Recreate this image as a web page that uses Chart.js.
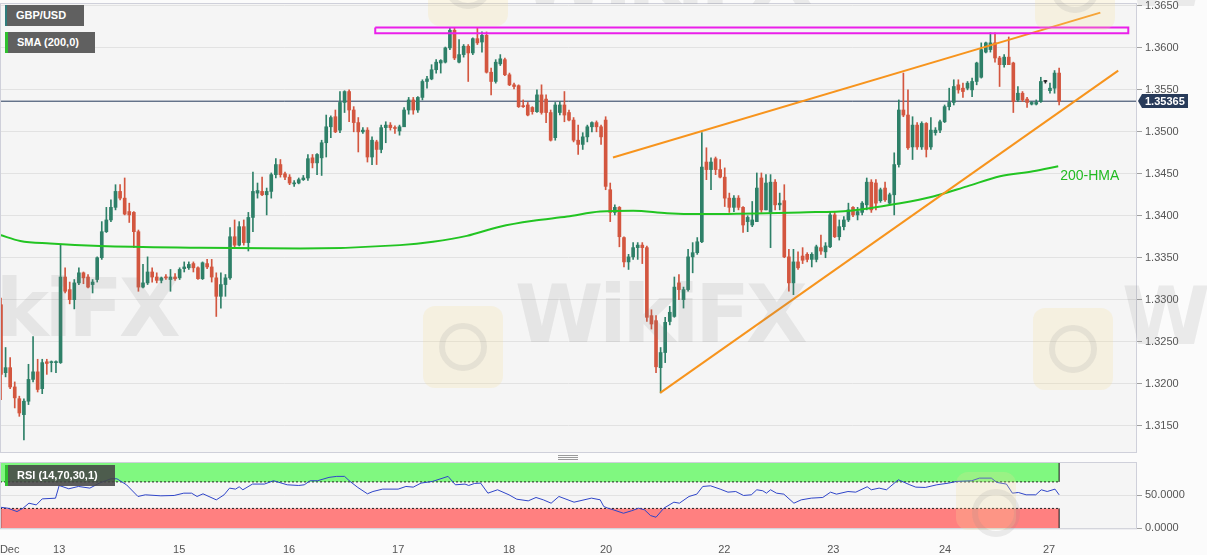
<!DOCTYPE html>
<html>
<head>
<meta charset="utf-8">
<script src="https://cdn.jsdelivr.net/npm/chart.js@4.4.1/dist/chart.umd.min.js"></script>
<style>
  html, body { margin: 0; padding: 0; background: #fbfbfb; }
  body { width: 1207px; height: 555px; position: relative; overflow: hidden; font-family: "Liberation Sans", Arial, sans-serif; }
  canvas { position: absolute; left: 0; }
  #main { top: 0; }
  #rsi { top: 455px; }
  .tag { position: absolute; left: 5px; height: 21px; line-height: 21px; background: #606060; color: #fff;
         font-weight: bold; font-size: 11px; padding-left: 9px; box-sizing: border-box; }
  .wm { position: absolute; color: rgba(120,120,120,0.13); font: bold 80px "DejaVu Sans", sans-serif; letter-spacing: -4px;
        white-space: nowrap; pointer-events: none; }
  .logo { position: absolute; width: 80px; height: 82px; border-radius: 12px; background: rgba(248,222,150,0.22); pointer-events: none; }
  .logo::after { content: ""; position: absolute; left: 16px; top: 17px; width: 36px; height: 36px; border-radius: 50%;
                 border: 6px solid rgba(140,140,140,0.15); }
  .grip { position: absolute; left: 558px; width: 20px; height: 1px; background: #9a9a9a; }
</style>
</head>
<body>
<canvas id="main" width="1207" height="455"></canvas>
<canvas id="rsi" width="1207" height="100"></canvas>

<div class="tag" style="top:5px;width:79px;border-left:2px solid #2f7c7c;">GBP/USD</div>
<div class="tag" style="top:32px;width:90px;border-left:3px solid #2fc02f;">SMA (200,0)</div>
<div class="tag" style="top:465px;width:110px;background:rgba(70,70,70,0.88);border-left:3px solid #2fc02f;">RSI (14,70,30,1)</div>
<div class="grip" style="top:455px;"></div>
<div class="grip" style="top:457px;"></div>
<div class="grip" style="top:459px;"></div>

<!-- faint WikiFX watermarks -->
<div class="wm" style="left:-112px;top:262px;">WikiFX</div>
<div class="logo" style="left:423px;top:306px;"></div>
<div class="wm" style="left:515px;top:268px;">WikiFX</div>
<div class="logo" style="left:1033px;top:308px;"></div>
<div class="wm" style="left:1122px;top:270px;">WikiFX</div>
<div class="logo" style="left:428px;top:-56px;"></div>
<div class="wm" style="left:520px;top:-70px;">WikiFX</div>
<div class="logo" style="left:1035px;top:-52px;"></div>
<div class="wm" style="left:1122px;top:-68px;">WikiFX</div>
<div class="logo" style="left:956px;top:472px;width:60px;height:58px;"></div>

<script>
'use strict';
// GBP/USD hourly candles, 10–27 Dec (index = hourly bar)
const opens = [1.3294,1.3213,1.3219,1.3196,1.3182,1.3163,1.3179,1.3205,1.3214,1.3194,
  1.3226,1.3225,1.3225,1.3225,1.3327,1.3312,1.3300,1.3320,1.3332,1.3327,
  1.3318,1.3324,1.3350,1.3381,1.3395,1.3410,1.3429,1.3421,1.3405,1.3404,
  1.3381,1.3315,1.3320,1.3333,1.3327,1.3323,1.3327,1.3324,1.3327,1.3326,
  1.3337,1.3338,1.3343,1.3338,1.3325,1.3343,1.3339,1.3326,1.3304,1.3318,
  1.3326,1.3375,1.3365,1.3387,1.3368,1.3398,1.3427,1.3429,1.3425,1.3429,
  1.3449,1.3461,1.3450,1.3446,1.3438,1.3439,1.3443,1.3445,1.3469,1.3463,
  1.3469,1.3487,1.3506,1.3518,1.3502,1.3535,1.3548,1.3526,1.3511,1.3500,
  1.3502,1.3470,1.3488,1.3479,1.3505,1.3508,1.3505,1.3501,1.3506,1.3526,
  1.3538,1.3526,1.3541,1.3560,1.3563,1.3574,1.3582,1.3583,1.3600,1.3621,
  1.3583,1.3592,1.3602,1.3594,1.3611,1.3607,1.3615,1.3571,1.3560,1.3581,
  1.3586,1.3568,1.3556,1.3555,1.3531,1.3532,1.3529,1.3524,1.3544,1.3539,
  1.3523,1.3493,1.3523,1.3532,1.3523,1.3514,1.3490,1.3485,1.3494,1.3506,
  1.3511,1.3506,1.3514,1.3431,1.3404,1.3410,1.3374,1.3345,1.3351,1.3362,
  1.3365,1.3362,1.3281,1.3275,1.3219,1.3237,1.3274,1.3280,1.3320,1.3300,
  1.3312,1.3351,1.3356,1.3369,1.3464,1.3455,1.3468,1.3455,1.3446,1.3421,
  1.3410,1.3421,1.3410,1.3393,1.3389,1.3393,1.3445,1.3407,1.3404,1.3440,
  1.3413,1.3418,1.3351,1.3320,1.3345,1.3352,1.3354,1.3348,1.3348,1.3362,
  1.3357,1.3363,1.3401,1.3375,1.3387,1.3395,1.3410,1.3401,1.3404,1.3413,
  1.3440,1.3439,1.3418,1.3433,1.3415,1.3425,1.3461,1.3526,1.3520,1.3482,
  1.3508,1.3482,1.3510,1.3482,1.3499,1.3502,1.3512,1.3530,1.3535,1.3556,
  1.3552,1.3552,1.3550,1.3560,1.3565,1.3595,1.3598,1.3606,1.3588,1.3580,
  1.3589,1.3582,1.3538,1.3546,1.3539,1.3533,1.3533,1.3536,1.3560,1.3549,
  1.3552,1.3570];
const highs = [1.3302,1.3243,1.3231,1.3202,1.3185,1.3182,1.3223,1.3256,1.3229,1.3229,
  1.3229,1.3227,1.3227,1.3365,1.3338,1.3321,1.3324,1.3338,1.3333,1.3330,
  1.3324,1.3351,1.3393,1.3410,1.3419,1.3437,1.3437,1.3445,1.3415,1.3405,
  1.3383,1.3342,1.3351,1.3338,1.3332,1.3327,1.3330,1.3336,1.3331,1.3338,
  1.3345,1.3345,1.3345,1.3339,1.3345,1.3348,1.3348,1.3332,1.3332,1.3330,
  1.3386,1.3395,1.3393,1.3395,1.3404,1.3452,1.3439,1.3446,1.3433,1.3451,
  1.3468,1.3467,1.3452,1.3449,1.3442,1.3445,1.3448,1.3473,1.3473,1.3474,
  1.3490,1.3520,1.3519,1.3526,1.3548,1.3549,1.3550,1.3530,1.3517,1.3505,
  1.3505,1.3494,1.3490,1.3508,1.3512,1.3511,1.3507,1.3508,1.3529,1.3541,
  1.3541,1.3542,1.3562,1.3566,1.3580,1.3586,1.3586,1.3601,1.3624,1.3624,
  1.3610,1.3604,1.3604,1.3612,1.3624,1.3619,1.3619,1.3576,1.3586,1.3592,
  1.3588,1.3570,1.3558,1.3556,1.3538,1.3535,1.3530,1.3550,1.3556,1.3544,
  1.3526,1.3535,1.3536,1.3548,1.3526,1.3517,1.3508,1.3499,1.3508,1.3512,
  1.3513,1.3508,1.3518,1.3439,1.3413,1.3411,1.3375,1.3354,1.3368,1.3368,
  1.3368,1.3364,1.3288,1.3281,1.3243,1.3279,1.3292,1.3327,1.3330,1.3315,
  1.3360,1.3368,1.3374,1.3499,1.3481,1.3469,1.3470,1.3467,1.3457,1.3427,
  1.3424,1.3424,1.3411,1.3400,1.3417,1.3451,1.3451,1.3449,1.3449,1.3443,
  1.3427,1.3437,1.3360,1.3360,1.3357,1.3362,1.3356,1.3356,1.3365,1.3377,
  1.3368,1.3404,1.3404,1.3395,1.3399,1.3415,1.3411,1.3410,1.3417,1.3445,
  1.3443,1.3443,1.3433,1.3440,1.3427,1.3475,1.3538,1.3570,1.3550,1.3518,
  1.3511,1.3512,1.3511,1.3517,1.3505,1.3514,1.3532,1.3552,1.3562,1.3562,
  1.3558,1.3560,1.3564,1.3583,1.3606,1.3607,1.3618,1.3618,1.3590,1.3592,
  1.3613,1.3583,1.3554,1.3548,1.3541,1.3536,1.3538,1.3565,1.3561,1.3558,
  1.3573,1.3576];
const lows = [1.3181,1.3208,1.3194,1.3171,1.3161,1.3133,1.3175,1.3202,1.3190,1.3188,
  1.3211,1.3214,1.3213,1.3224,1.3308,1.3295,1.3289,1.3318,1.3319,1.3314,
  1.3308,1.3321,1.3348,1.3380,1.3393,1.3407,1.3419,1.3401,1.3392,1.3362,
  1.3310,1.3314,1.3318,1.3321,1.3320,1.3320,1.3324,1.3310,1.3323,1.3324,
  1.3333,1.3336,1.3333,1.3324,1.3324,1.3337,1.3321,1.3280,1.3290,1.3304,
  1.3324,1.3363,1.3364,1.3365,1.3358,1.3381,1.3421,1.3424,1.3401,1.3421,
  1.3445,1.3446,1.3443,1.3437,1.3435,1.3438,1.3442,1.3442,1.3457,1.3449,
  1.3448,1.3470,1.3493,1.3499,1.3499,1.3523,1.3512,1.3500,1.3476,1.3498,
  1.3464,1.3461,1.3461,1.3475,1.3487,1.3502,1.3498,1.3496,1.3506,1.3521,
  1.3521,1.3523,1.3538,1.3552,1.3562,1.3570,1.3570,1.3582,1.3598,1.3586,
  1.3582,1.3589,1.3560,1.3592,1.3604,1.3595,1.3570,1.3544,1.3558,1.3579,
  1.3567,1.3555,1.3551,1.3529,1.3529,1.3519,1.3521,1.3523,1.3521,1.3511,
  1.3489,1.3490,1.3520,1.3512,1.3513,1.3488,1.3473,1.3479,1.3488,1.3500,
  1.3500,1.3485,1.3431,1.3393,1.3401,1.3363,1.3339,1.3336,1.3348,1.3348,
  1.3343,1.3274,1.3265,1.3213,1.3189,1.3225,1.3270,1.3279,1.3300,1.3290,
  1.3310,1.3332,1.3354,1.3368,1.3443,1.3431,1.3449,1.3445,1.3411,1.3404,
  1.3405,1.3407,1.3380,1.3381,1.3387,1.3393,1.3404,1.3407,1.3362,1.3407,
  1.3407,1.3350,1.3310,1.3306,1.3336,1.3343,1.3345,1.3339,1.3345,1.3354,
  1.3350,1.3362,1.3374,1.3371,1.3383,1.3393,1.3399,1.3395,1.3401,1.3407,
  1.3404,1.3407,1.3416,1.3417,1.3413,1.3401,1.3458,1.3518,1.3479,1.3467,
  1.3479,1.3479,1.3470,1.3479,1.3496,1.3499,1.3511,1.3526,1.3532,1.3546,
  1.3541,1.3550,1.3542,1.3556,1.3564,1.3594,1.3595,1.3583,1.3554,1.3577,
  1.3580,1.3523,1.3536,1.3536,1.3529,1.3532,1.3532,1.3535,1.3558,1.3546,
  1.3546,1.3532];
const closes = [1.3211,1.3219,1.3196,1.3183,1.3165,1.3179,1.3205,1.3214,1.3193,1.3225,
  1.3224,1.3226,1.3226,1.3327,1.3310,1.3300,1.3320,1.3332,1.3326,1.3315,
  1.3321,1.3350,1.3381,1.3395,1.3410,1.3429,1.3421,1.3402,1.3401,1.3381,
  1.3315,1.3320,1.3333,1.3327,1.3323,1.3326,1.3326,1.3327,1.3325,1.3336,
  1.3339,1.3342,1.3338,1.3325,1.3344,1.3339,1.3327,1.3304,1.3318,1.3326,
  1.3375,1.3365,1.3387,1.3368,1.3398,1.3429,1.3430,1.3425,1.3429,1.3449,
  1.3461,1.3449,1.3446,1.3439,1.3439,1.3443,1.3445,1.3468,1.3463,1.3473,
  1.3487,1.3506,1.3517,1.3500,1.3535,1.3548,1.3526,1.3511,1.3500,1.3502,
  1.3470,1.3490,1.3479,1.3505,1.3508,1.3505,1.3504,1.3506,1.3526,1.3538,
  1.3526,1.3541,1.3560,1.3563,1.3574,1.3583,1.3585,1.3600,1.3621,1.3588,
  1.3592,1.3602,1.3594,1.3611,1.3606,1.3615,1.3571,1.3560,1.3583,1.3587,
  1.3568,1.3556,1.3554,1.3530,1.3530,1.3520,1.3524,1.3544,1.3523,1.3523,
  1.3490,1.3532,1.3532,1.3520,1.3514,1.3490,1.3485,1.3494,1.3506,1.3511,
  1.3506,1.3494,1.3435,1.3404,1.3410,1.3375,1.3345,1.3351,1.3362,1.3365,
  1.3362,1.3279,1.3271,1.3220,1.3237,1.3273,1.3285,1.3315,1.3312,1.3312,
  1.3351,1.3356,1.3369,1.3458,1.3455,1.3464,1.3455,1.3446,1.3421,1.3410,
  1.3421,1.3410,1.3389,1.3398,1.3395,1.3433,1.3407,1.3439,1.3440,1.3413,
  1.3415,1.3351,1.3320,1.3345,1.3338,1.3347,1.3348,1.3354,1.3363,1.3358,
  1.3364,1.3401,1.3375,1.3387,1.3395,1.3407,1.3401,1.3405,1.3415,1.3440,
  1.3407,1.3415,1.3431,1.3419,1.3425,1.3461,1.3526,1.3520,1.3481,1.3508,
  1.3482,1.3510,1.3479,1.3502,1.3502,1.3512,1.3530,1.3535,1.3554,1.3550,
  1.3548,1.3558,1.3560,1.3582,1.3598,1.3606,1.3606,1.3588,1.3580,1.3589,
  1.3580,1.3536,1.3546,1.3538,1.3535,1.3535,1.3535,1.3560,1.3560,1.3552,
  1.3570,1.35365];

// 200-hour moving average (green), sampled along the curve
const hmaIdx = [-0.2,4.2,10.7,21.6,43.4,65.3,87.1,94.3,101.7,108.9,116.2,123.6,130.8,138.0,145.4,152.6,167.2,174.5,185.4,196.3,203.5,210.9,218.1,225.3,230.8];
const hmaVal = [1.3377,1.3370,1.3367,1.3364,1.3362,1.3361,1.3365,1.3369,1.3376,1.3387,1.3394,1.3399,1.3405,1.3406,1.3403,1.3402,1.3403,1.3404,1.3406,1.3415,1.3423,1.3435,1.3447,1.3453,1.3459];

// drawn studies
const wedgeTop = [[133.6, 1.34694], [240.0, 1.3642]];
const wedgeBottom = [[143.9, 1.31889], [243.9, 1.35729]];
const resistZone = { from: 81.7, to: 246.1, hi: 1.36244, lo: 1.36175 };

// RSI(14)
const rsiIdx = [-0.2,1.5,3.5,4.8,6.1,7.7,9.0,11.9,12.7,14.8,16.9,19.4,21.5,24.0,25.3,27.4,29.9,31.5,34.9,37.8,
  39.9,41.6,42.8,44.1,47.0,48.7,49.9,51.2,52.0,52.8,54.9,57.5,59.5,62.5,65.0,66.2,67.5,69.1,71.6,73.3,
  75.0,76.2,77.9,80.0,81.2,83.3,86.7,88.4,90.0,91.7,94.2,97.6,99.2,101.3,102.1,103.4,104.7,106.3,108.4,110.9,
  112.6,115.1,116.8,118.4,120.1,121.8,125.1,128.9,130.8,131.6,132.5,133.7,135.9,137.6,139.2,140.5,141.8,143.0,144.7,146.9,
  148.1,150.2,151.9,153.2,154.9,157.0,158.7,160.4,162.1,163.8,165.0,166.3,167.1,168.0,169.3,170.9,173.1,174.7,176.9,179.4,
  181.1,182.4,184.9,186.6,189.1,190.0,191.7,193.3,195.9,198.4,199.7,201.8,204.3,206.9,208.6,211.9,213.6,216.2,217.4,219.5,
  220.8,222.1,223.8,225.9,227.1,228.4,230.1,231.0];
const rsiVal = [31.8,30.3,25.2,30.3,37.9,35.3,44.4,45.4,64.6,59.6,63.1,60.6,68.2,74.7,74.7,65.6,48,50.5,49,49.5,
  53,53,48,52,42.9,50.5,60.6,59.1,62.6,58.1,66.7,66.7,71.7,65.6,64.6,65.6,71.7,71.7,76.8,78.3,
  78.3,70.7,61.6,52,55.5,59.1,59.1,63.1,62.1,68.2,70.7,78.3,65.6,66.7,64.6,67.7,68.2,53,58.1,50.5,
  43.9,41.4,46.5,42.9,37.9,48,39.4,45.5,43,32.8,30.3,27.8,22.7,26.3,30.3,27.8,19.2,16.7,30.3,39.4,
  37.9,48,51.5,63.1,64.1,59.1,54.5,55.5,49.5,50.5,58.1,56.6,53,58.1,53,51.5,37.9,42.9,45.5,46.5,
  54.5,51.5,55.5,54.5,62.6,58.1,60.6,58.1,73.2,65.6,62.1,61.6,65.6,68.2,70.7,71.7,75.7,75.7,69.2,66.7,
  53,54,50.5,50.5,58.1,55.5,59.1,50.5];

const priceTicks = [1.3150,1.3200,1.3250,1.3300,1.3350,1.3400,1.3450,1.3500,1.3550,1.3600,1.3650];
const rsiTicks = [0, 50];
const dayTickIdx = [1.9, 12.7, 38.9, 62.9, 86.7, 110.9, 132.1, 157.9, 181.7, 206.1, 228.8];
const dayTickLabels = ['Dec', '13', '15', '16', '17', '18', '20', '22', '23', '24', '27'];

const X_MIN = -0.218, X_MAX = 248.0;
const FONT = '"Liberation Sans", Arial, sans-serif';
const UP = '#2e8068', DOWN = '#d3563f', FLAT = '#222222';
const lastIdx = closes.length - 1;
const lastPrice = closes[lastIdx];

// shared panel look: light fill under the plot + thin frame
const panelFrame = {
  id: 'panelFrame',
  beforeDraw(chart) {
    const { ctx, chartArea: a } = chart;
    ctx.save();
    ctx.fillStyle = '#f5f5f5';
    ctx.fillRect(a.left, a.top, a.right - a.left, a.bottom - a.top);
    ctx.restore();
  },
  afterDraw(chart) {
    const { ctx, chartArea: a } = chart;
    ctx.save();
    ctx.strokeStyle = '#cfd0da';
    ctx.lineWidth = 1;
    ctx.strokeRect(a.left + 0.5, a.top + 0.5, a.right - a.left - 1, a.bottom - a.top);
    ctx.restore();
  }
};

const priceTag = {
  id: 'priceTag',
  afterDraw(chart) {
    const { ctx, chartArea: a, scales: { y } } = chart;
    const py = Math.round(y.getPixelForValue(lastPrice));
    const x0 = a.right + 5, w = 46, h = 14;
    ctx.save();
    ctx.fillStyle = '#283b5a';
    ctx.beginPath();
    ctx.moveTo(a.right + 1, py);
    ctx.lineTo(x0, py - h / 2);
    ctx.lineTo(x0 + w, py - h / 2);
    ctx.lineTo(x0 + w, py + h / 2);
    ctx.lineTo(x0, py + h / 2);
    ctx.closePath();
    ctx.fill();
    ctx.fillStyle = '#ffffff';
    ctx.font = 'bold 11px ' + FONT;
    ctx.textBaseline = 'middle';
    ctx.fillText(lastPrice.toFixed(5), x0 + 3, py + 1);
    // 200-HMA caption at the end of the average
    const hx = chart.scales.x.getPixelForValue(hmaIdx[hmaIdx.length - 1]);
    const hy = y.getPixelForValue(hmaVal[hmaVal.length - 1]);
    ctx.fillStyle = '#22bb22';
    ctx.font = '14px ' + FONT;
    ctx.fillText('200-HMA', hx + 2, hy + 10);
    ctx.restore();
  }
};

// keep label half-heights from shrinking the plot
const noPadV = s => { s.width = 70; s.paddingTop = 0; s.paddingBottom = 0; };
const noPadH = s => { s.height = 26.7; s.paddingLeft = 0; s.paddingRight = 0; };

const idx = closes.map((_, i) => i);
const candleCol = closes.map((c, i) => c > opens[i] ? UP : (c < opens[i] ? DOWN : FLAT));
const seg = (pts) => pts.map(p => ({ x: p[0], y: p[1] }));
const lineDs = (data, color, width, order, extra) => Object.assign({
  type: 'line', data, borderColor: color, borderWidth: width, pointRadius: 0, fill: false, order
}, extra || {});

new Chart(document.getElementById('main'), {
  data: {
    datasets: [
      lineDs([{ x: X_MIN, y: lastPrice }, { x: X_MAX, y: lastPrice }], '#24395a', 1, 9),
      { type: 'bar', data: idx.map(i => ({ x: i, y: [lows[i], highs[i]] })), backgroundColor: candleCol,
        barThickness: 1, grouped: false, order: 8 },
      { type: 'bar', data: idx.map(i => ({ x: i, y: [opens[i], closes[i]] })), backgroundColor: candleCol,
        barThickness: 3, minBarLength: 1, grouped: false, order: 7 },
      lineDs(hmaIdx.map((x, i) => ({ x, y: hmaVal[i] })), '#22c422', 2, 4, { cubicInterpolationMode: 'monotone' }),
      lineDs(seg(wedgeTop), '#f7941d', 2, 3),
      lineDs(seg(wedgeBottom), '#f7941d', 2, 3),
      lineDs([
        { x: resistZone.from, y: resistZone.hi }, { x: resistZone.to, y: resistZone.hi },
        { x: resistZone.to, y: resistZone.lo }, { x: resistZone.from, y: resistZone.lo },
        { x: resistZone.from, y: resistZone.hi }
      ], '#ea1fea', 2, 2)
    ]
  },
  options: {
    responsive: false, animation: false, devicePixelRatio: 1,
    layout: { padding: { left: 0, right: 0, top: 3, bottom: 3 } },
    plugins: { legend: { display: false }, tooltip: { enabled: false } },
    scales: {
      x: { type: 'linear', min: X_MIN, max: X_MAX, offset: false, display: false },
      y: {
        type: 'linear', position: 'right', min: 1.31185, max: 1.36535,
        afterBuildTicks: s => { s.ticks = priceTicks.map(v => ({ value: v })); },
        afterFit: noPadV,
        grid: { color: '#e2e2e2', tickColor: '#a0a0a0', tickLength: 5 },
        border: { display: false },
        ticks: { color: '#555', padding: 3, font: { family: FONT, size: 11 }, callback: v => v.toFixed(4) }
      }
    }
  },
  plugins: [panelFrame, priceTag]
});

// RSI panel
const bandTo = lastIdx;
new Chart(document.getElementById('rsi'), {
  data: {
    datasets: [
      lineDs([{ x: X_MIN, y: 100 }, { x: bandTo, y: 100 }], 'rgba(0,0,0,0)', 1, 5),
      lineDs([{ x: X_MIN, y: 70 }, { x: bandTo, y: 70 }], '#222', 1, 5,
        { borderDash: [2, 2], fill: '-1', backgroundColor: '#80f880' }),
      lineDs([{ x: X_MIN, y: 30 }, { x: bandTo, y: 30 }], '#222', 1, 5,
        { borderDash: [2, 2], fill: '+1', backgroundColor: '#ff8080' }),
      lineDs([{ x: X_MIN, y: 0 }, { x: bandTo, y: 0 }], 'rgba(0,0,0,0)', 1, 5),
      lineDs([{ x: bandTo, y: 70 }, { x: bandTo, y: 100 }], '#111', 1, 4),
      lineDs([{ x: bandTo, y: 0 }, { x: bandTo, y: 30 }], '#111', 1, 4),
      lineDs([{ x: X_MIN + 0.15, y: 0 }, { x: X_MIN + 0.15, y: 30 }], '#111', 1, 4),
      lineDs(rsiIdx.map((x, i) => ({ x, y: rsiVal[i] })), '#2f45c8', 1, 1)
    ]
  },
  options: {
    responsive: false, animation: false, devicePixelRatio: 1,
    layout: { padding: { left: 0, right: 0, top: 7, bottom: 0 } },
    plugins: { legend: { display: false }, tooltip: { enabled: false } },
    scales: {
      x: {
        type: 'linear', min: X_MIN, max: X_MAX, offset: false,
        afterBuildTicks: s => { s.ticks = dayTickIdx.map(v => ({ value: v })); },
        afterFit: noPadH,
        grid: { display: false }, border: { display: false },
        ticks: { color: '#555', padding: 7, autoSkip: false, maxRotation: 0, font: { family: FONT, size: 11 },
                 callback: (v, i) => dayTickLabels[i] }
      },
      y: {
        type: 'linear', position: 'right', min: 0, max: 100,
        afterBuildTicks: s => { s.ticks = rsiTicks.map(v => ({ value: v })); },
        afterFit: noPadV,
        grid: { color: '#e2e2e2', tickColor: '#a0a0a0', tickLength: 5 },
        border: { display: false },
        ticks: { color: '#555', padding: 3, font: { family: FONT, size: 11 }, callback: v => v.toFixed(4) }
      }
    }
  },
  plugins: [panelFrame]
});
</script>
</body>
</html>
